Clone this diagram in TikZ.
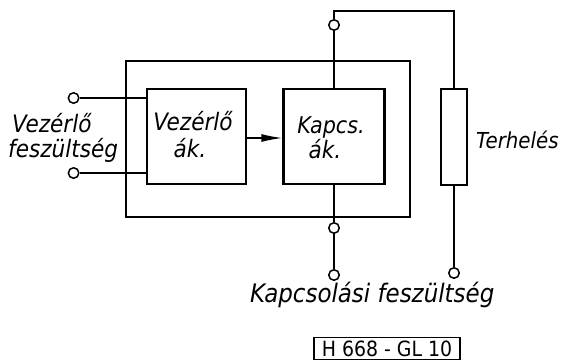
\documentclass[tikz,border=0pt]{standalone}
\usepackage{fontspec}
\setmainfont{DejaVu Sans Condensed}
\usetikzlibrary{arrows.meta}
\begin{document}
\begin{tikzpicture}[x=1pt,y=-1pt,
  box/.style={draw, line width=2.2pt, inner sep=0pt},
  wire/.style={line width=1.5pt},
  term/.style={circle, draw, line width=1.5pt, minimum size=10.5pt, inner sep=0pt, fill=white},
  lbl/.style={font=\fontsize{24}{28}\selectfont\itshape, inner sep=0pt},
]
\useasboundingbox[fill=white] (0,0) rectangle (563,362);
% blocks
\node[box, minimum width=284pt, minimum height=156pt] (outer) at (268,139) {};
\node[box, minimum width=99pt, minimum height=95pt] (vez) at (196.5,136.5) {};
\node[box, minimum width=101pt, minimum height=95pt] (kap) at (334,136.5) {};
\node[box, minimum width=26pt, minimum height=96pt] (load) at (454,137) {};
% terminals
\node[term] (tl1) at (73.6,98) {};
\node[term] (tl2) at (73.6,173) {};
\node[term] (tt) at (334,25) {};
\node[term] (tb1) at (334,228) {};
\node[term] (tb2) at (334,275) {};
\node[term] (tr) at (454,273) {};
\coordinate (c1) at (334,11);
% wires
\draw[wire] (tl1) -- (tl1 -| vez.west);
\draw[wire] (tl2) -- (tl2 -| vez.west);
\draw[wire] (tt) -- (kap.north);
\draw[wire] (tt) -- (c1) -| (load.north);
\draw[wire] (kap.south) -- (tb1);
\draw[wire] (tb1) -- (tb2);
\draw[wire] (load.south) -- (tr);
\draw[wire, -{Latex[length=21pt,width=8pt]}] ([yshift=-1.5pt]vez.east) -- ([yshift=-1.5pt]kap.west);
% labels
\node[lbl, anchor=base west] (vl1) at (12,132) {Vezérlő};
\node[lbl, anchor=base west] (vl2) at (8,157) {feszültség};
\node[lbl, anchor=base] (vt1) at (193,130) {Vezérlő};
\node[lbl, anchor=base] (vt2) at (190,157) {ák.};
\node[lbl, font=\fontsize{23}{27}\selectfont\itshape, anchor=base] (kt1) at (331,133) {Kapcs.};
\node[lbl, anchor=base] (kt2) at (325,158) {ák.};
\node[lbl, font=\fontsize{22}{26}\selectfont\itshape, anchor=base west] (th) at (476,148) {Terhelés};
\node[lbl, font=\fontsize{25.5}{30}\selectfont\itshape, anchor=base west] (kf) at (250,302) {Kapcsolási feszültség};
\node[draw, line width=1.7pt, minimum width=146pt, minimum height=22pt, inner sep=0pt,
      font=\fontsize{21}{21}\selectfont] (id) at (387,348.5) {H 668 - GL 10};
\end{tikzpicture}
\end{document}
